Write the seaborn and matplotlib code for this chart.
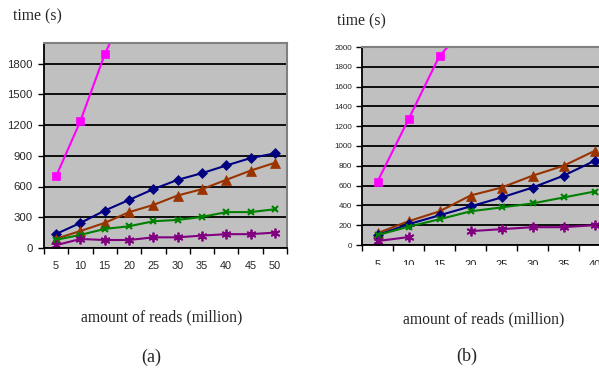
import numpy as np
import pandas as pd
import seaborn as sns
import matplotlib.pyplot as plt
from matplotlib.transforms import Bbox

# values
reads_a = [5, 10, 15, 20, 25, 30, 35, 40, 45, 50]
pink_a = [700, 1240, 1890, 2400, np.nan, np.nan, np.nan, np.nan, np.nan, np.nan]
blue_a = [137, 245, 365, 469, 574, 665, 730, 805, 877, 923]
brown_a = [91, 166, 245, 350, 420, 512, 574, 665, 755, 831]
green_a = [80, 128, 186, 212, 261, 274, 303, 350, 350, 378]
purple_a = [28, 88, 78, 78, 104, 104, 121, 135, 135, 150]

reads_b = [5, 10, 15, 20, 25, 30, 35, 40]
pink_b = [640, 1270, 1910, 2250, np.nan, np.nan, np.nan, np.nan]
blue_b = [100, 210, 300, 390, 480, 580, 700, 850]
brown_b = [120, 240, 340, 500, 580, 700, 800, 950]
green_b = [100, 185, 260, 340, 380, 420, 480, 540]
purple_b = [40, 80, np.nan, 140, 160, 180, 180, 200]

yticks_a = [0, 300, 600, 900, 1200, 1500, 1800]
yticks_b = list(range(0, 2001, 200))

styles = {
    'pink': dict(color='#FF00FF', marker='s', ms=6),
    'blue': dict(color='#000080', marker='D', ms=5),
    'brown': dict(color='#993300', marker='^', ms=7),
    'green': dict(color='#008000', marker='x', ms=4, mew=1.5),
    'purple': dict(color='#800080', marker=(6, 2, 0), ms=7, mew=1.3),
}

sns.set_style('white')
plt.rcParams['font.family'] = ['Liberation Sans', 'DejaVu Sans']

fig = plt.figure(figsize=(5.99, 3.68), dpi=100)
ax_a = fig.add_axes([44 / 599, 120 / 368, 243 / 599, 205 / 368])
ax_b = fig.add_axes([362 / 599, 123 / 368, 310 / 599, 198 / 368])


def draw(ax, reads, series):
    for name, vals in series:
        df = pd.DataFrame({'reads': reads, 'time': vals})
        # split at gaps so missing points break the line
        df['run'] = df['time'].isna().cumsum()
        df = df.dropna()
        for _, seg in df.groupby('run'):
            st = styles[name]
            sns.lineplot(data=seg, x='reads', y='time', ax=ax, color=st['color'],
                         marker=st['marker'], markersize=st['ms'],
                         markeredgewidth=st.get('mew', 0.5),
                         markeredgecolor=st['color'], lw=1.5, legend=False)


draw(ax_a, reads_a, [('pink', pink_a), ('blue', blue_a), ('brown', brown_a),
                     ('green', green_a), ('purple', purple_a)])
draw(ax_b, reads_b, [('pink', pink_b), ('brown', brown_b), ('blue', blue_b),
                     ('green', green_b), ('purple', purple_b)])

# (axes, x labels, y ticks, x font, y font, x pad, y pad)
setups = [(ax_a, reads_a, yticks_a, 7.8, 8.2, 9.5, 4.3),
          (ax_b, reads_b, yticks_b, 8, 5.8, 10.5, 3)]
for ax, xl, yt, xfs, yfs, xpad, ypad in setups:
    ax.set_facecolor('#C0C0C0')
    ax.set_xlim(2.5, 52.5)
    ax.set_ylim(0, 2000)
    ax.set_yticks(yt)
    ax.set_xticks(np.arange(2.5, 53, 5))
    ax.set_xticklabels([])
    ax.set_xticks(xl, minor=True)
    ax.set_xticklabels([str(r) for r in xl], minor=True, fontsize=xfs)
    ax.tick_params(axis='x', which='major', direction='out', length=4, width=1,
                   color='black', bottom=True)
    ax.tick_params(axis='x', which='minor', length=0, pad=xpad)
    ax.tick_params(axis='y', direction='out', length=4, width=1, color='black',
                   left=True, labelsize=yfs, pad=ypad)
    ax.grid(axis='y', color='black', lw=1.3)
    ax.grid(axis='x', visible=False)
    ax.set_axisbelow(True)
    ax.set_xlabel('')
    ax.set_ylabel('')
    for side in ['left', 'bottom']:
        ax.spines[side].set_color('black')
        ax.spines[side].set_linewidth(1.3)
    for side in ['top', 'right']:
        ax.spines[side].set_color('#808080')
        ax.spines[side].set_linewidth(1.5)

# the scanned panel (b) has its x labels cut off at the bottom
cut = Bbox.from_extents(0, 368 - 265, 599, 368)
for lab in ax_b.get_xticklabels(minor=True):
    lab.set_clip_on(True)
    lab.set_clip_box(cut)

serif = ['Liberation Serif', 'DejaVu Serif']
fig.text(13 / 599, 1 - 16 / 368, 'time (s)', family=serif, fontsize=11.3, va='center')
fig.text(337 / 599, 1 - 21 / 368, 'time (s)', family=serif, fontsize=11.3, va='center')
fig.text(162 / 599, 1 - 317 / 368, 'amount of reads (million)', family=serif,
         fontsize=11.3, ha='center', va='center')
fig.text(484 / 599, 1 - 319 / 368, 'amount of reads (million)', family=serif,
         fontsize=11.3, ha='center', va='center')
fig.text(151 / 599, 1 - 357 / 368, '(a)', family=serif, fontsize=13, ha='center', va='center')
fig.text(467 / 599, 1 - 356 / 368, '(b)', family=serif, fontsize=13, ha='center', va='center')

fig.savefig('out.png', dpi=100)
